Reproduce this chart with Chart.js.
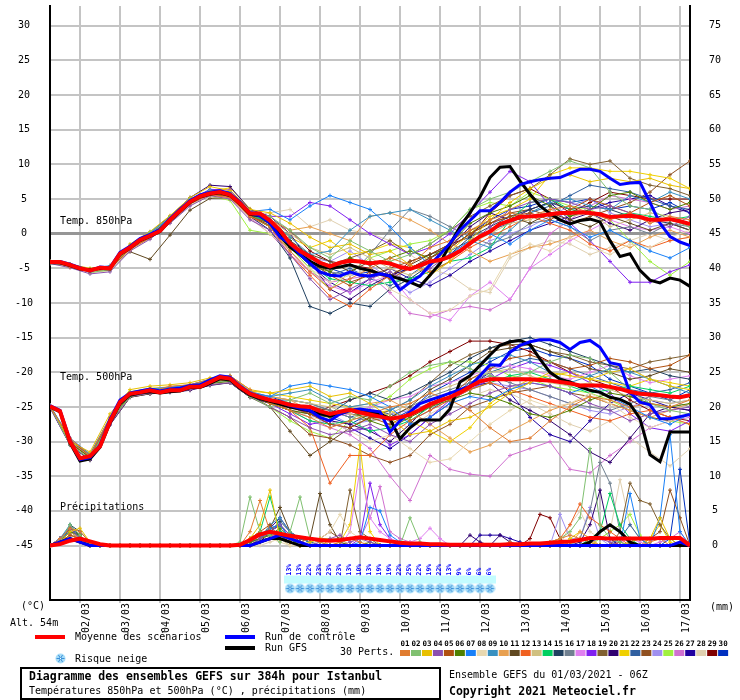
<!DOCTYPE html>
<html>
<head>
<meta charset="utf-8">
<script src="https://cdn.jsdelivr.net/npm/chart.js@4.4.1/dist/chart.umd.min.js"></script>
<style>
  body { margin: 0; background: #fff; }
  canvas { display: block; }
</style>
</head>
<body>
<canvas id="gefs" width="740" height="700"></canvas>
<script>
// time axis (hours after 01/03 06Z)
const hours6 = [0,6,12,18,24,30,36,42,48,54,60,66,72,78,84,90,96,102,108,114,120,126,132,138,144,150,156,162,168,174,180,186,192,198,204,210,216,222,228,234,240,246,252,258,264,270,276,282,288,294,300,306,312,318,324,330,336,342,348,354,360,366,372,378,384];
const hours12 = [0,12,24,36,48,60,72,84,96,108,120,132,144,156,168,180,192,204,216,228,240,252,264,276,288,300,312,324,336,348,360,372,384];
const dayHours = [18,42,66,90,114,138,162,186,210,234,258,282,306,330,354,378];
const dayLabels = ['02/03','03/03','04/03','05/03','06/03','07/03','08/03','09/03','10/03','11/03','12/03','13/03','14/03','15/03','16/03','17/03'];
const tempTicks = [30,25,20,15,10,5,0,-5,-10,-15,-20,-25,-30,-35,-40,-45];
const rrTicks = [75,70,65,60,55,50,45,40,35,30,25,20,15,10,5,0];

const persColors = ['#e07c30','#80c070','#e8c000','#8c50b0','#b05010','#508000','#1880f8','#e8d8b0','#3890c0','#e8a050',
  '#604820','#f06020','#d0c080','#00d060','#204060','#708090','#e080f0','#8020f0','#806030','#300070',
  '#f0d000','#3060a0','#905020','#a090f0','#a0f040','#d070d0','#2000a0','#e0d0b0','#800000','#0030c0'];

// 850 hPa, 6h steps
const mean850 = [-4.1,-4.1,-4.5,-5.0,-5.3, -4.9,-5.0,-2.9,-2.0,-0.9, -0.3,0.4,2.0,3.3,4.6, 5.4,5.8,6.0,5.6,4.4, 2.9,2.9,1.9,0.5,-1.4, -2.5,-3.3,-4.2,-4.7,-4.2, -3.9,-4.0,-4.3,-4.1,-4.3, -4.8,-5.1,-4.6,-4.0,-3.8, -3.3,-2.5,-1.4,-0.4,0.3, 1.4,1.9,2.4,2.5,2.6, 2.8,3.0,3.0,3.1,3.0, 2.8,2.4,2.5,2.6,2.4, 2.0,2.0,2.1,1.8,1.4];
const ctrl850 = [-4.0,-4.0,-4.4,-4.9,-5.4, -4.8,-4.9,-2.7,-1.8,-0.7, -0.1,0.6,2.2,3.5,4.8, 5.6,6.0,6.2,5.8,4.6, 3.0,2.6,1.5,-0.5,-1.4, -3.0,-4.3,-5.5,-6.0,-6.1, -5.5,-6.0,-6.1,-5.8,-6.1, -8.1,-7.0,-6.1,-4.5,-3.0, -1.4,0.5,1.9,3.3,3.3, 4.5,6.0,7.1,7.5,7.8, 8.0,8.1,8.7,9.3,9.3, 9.0,8.0,7.1,7.3,7.4, 4.5,1.5,-0.4,-1.2,-1.7];
const gfs850 = [-4.2,-4.2,-4.6,-5.1,-5.2, -5.0,-5.1,-3.0,-2.1,-1.0, -0.4,0.3,1.9,3.2,4.5, 5.3,5.7,5.9,5.5,4.3, 2.8,2.6,1.6,-0.3,-1.9, -3.0,-4.0,-4.7,-5.0,-4.8, -4.5,-5.0,-5.3,-5.8,-6.1, -6.5,-7.0,-7.6,-6.0,-4.3, -1.5,1.0,3.0,5.3,8.1, 9.6,9.7,7.6,5.7,4.0, 2.9,2.0,1.4,1.9,2.1, 1.7,-1.0,-3.3,-2.9,-5.3, -6.7,-7.1,-6.4,-6.7,-7.6];

// 500 hPa, 6h steps
const mean500 = [-24.9,-25.6,-30.0,-32.4,-32.1, -30.7,-27.1,-24.3,-23.1,-22.9, -22.6,-22.9,-22.6,-22.6,-22.1, -22.1,-21.4,-20.7,-20.9,-22.1, -23.1,-23.6,-24.0,-24.3,-24.7, -24.9,-25.0,-25.6,-26.0,-25.7, -25.4,-25.8,-26.1,-26.4,-26.7, -26.5,-26.1,-25.4,-24.6,-24.1, -23.6,-22.9,-22.1,-21.3,-21.0, -21.0,-21.0,-21.0,-21.0,-21.1, -21.2,-21.4,-21.6,-21.9,-21.9, -21.9,-22.1,-22.4,-22.8,-23.1, -23.2,-23.3,-23.5,-23.6,-23.3];
const ctrl500 = [-24.8,-25.5,-29.8,-32.6,-32.3, -30.5,-26.8,-24.0,-23.0,-22.7, -22.4,-22.7,-22.4,-22.3,-21.9, -21.8,-21.1,-20.5,-20.7,-22.0, -23.0,-23.5,-24.0,-24.3,-24.8, -25.2,-25.5,-26.5,-27.0,-26.0, -25.5,-25.3,-25.5,-25.7,-28.6, -27.0,-25.7,-24.5,-24.0,-23.5, -23.0,-22.5,-22.0,-20.5,-18.9, -19.0,-17.1,-16.1,-15.6,-15.3, -15.3,-15.7,-16.7,-15.7,-15.4, -16.4,-18.6,-18.9,-22.9,-24.3, -24.7,-26.7,-26.7,-26.4,-26.1];
const gfs500 = [-25.0,-25.7,-30.2,-32.8,-32.5, -30.8,-27.3,-24.5,-23.3,-23.0, -22.8,-23.0,-22.8,-22.7,-22.2, -22.2,-21.6,-20.9,-21.1,-22.3, -23.3,-23.8,-24.2,-24.6,-25.0, -25.3,-25.6,-26.0,-26.3,-26.0, -25.5,-25.4,-25.7,-26.0,-26.7, -29.6,-28.0,-26.9,-26.9,-26.9, -25.3,-21.4,-20.5,-19.0,-17.5, -16.1,-15.6,-15.4,-16.0,-18.1, -20.0,-21.0,-21.4,-22.1,-22.6, -22.9,-23.6,-23.9,-24.6,-26.7, -31.9,-32.9,-28.6,-28.6,-28.6];

// precipitation (mm), 6h steps
const meanRR = [0,0.2,0.7,1.0,0.6, 0.2,0,0,0,0, 0,0,0,0,0, 0,0,0,0,0.1, 0.8,1.6,2.0,1.7,1.4, 1.2,1.0,0.8,0.7,0.8, 1.0,1.2,1.0,0.8,0.6, 0.4,0.3,0.3,0.2,0.2, 0.1,0.1,0.1,0.1,0.1, 0.1,0.2,0.2,0.3,0.3, 0.4,0.5,0.6,0.8,1.1, 1.1,1.0,1.0,1.0,1.0, 1.0,1.1,1.1,1.1,0];
const ctrlRR = [0,0.5,1,0.5,0, 0,0,0,0,0, 0,0,0,0,0, 0,0,0,0,0, 0,0.5,1,1.5,1, 0.5,0,0,0,0, 0,0,0,0,0, 0,0,0,0,0, 0,0,0,0,0, 0,0,0,0,0, 0,0,0,0,0, 0,0,0,0,0, 0,0,0,0.5,0];
const gfsRR = [0,0.5,1,0.5,0, 0,0,0,0,0, 0,0,0,0,0, 0,0,0,0,0, 0,0.5,1,1,0.5, 0,0,0,0,0, 0,0,0,0,0, 0,0,0,0,0, 0,0,0,0,0, 0,0,0,0,0, 0,0,0,0,0.5, 2,3,2,0.5,0, 0,0,0,0,0];

// perturbations, 850 hPa, 12h steps
const t850Perts = [
  [-4.0,-4.8,-5.5,-4.8,-2.3,-0.5,1.8,4.4,5.6,5.2,2.5, 1.0,-2.5,-5.5,-8.0,-6.5,-5.0,-3.5,-4.5,-2.0,-1.0,0.5,2.0,3.0,2.5,3.5,4.0,3.0,2.0,3.0,1.5,2.5,2.0],
  [-4.2,-4.5,-5.6,-5.2,-1.8,0.2,2.4,5.0,6.2,5.8,3.0, 2.5,0.5,-2.0,-3.5,-1.0,-2.5,-4.0,-3.0,-1.5,0.5,3.5,5.0,6.0,7.5,9.0,10.5,9.5,6.0,4.0,3.5,2.0,1.0],
  [-4.1,-4.4,-5.0,-4.7,-1.5,0.3,2.6,5.2,6.8,6.2,3.5, 3.0,1.5,-0.5,-2.0,-1.5,-3.0,-2.5,-4.5,-6.0,-4.0,-1.0,2.0,4.5,6.5,8.0,8.5,7.5,8.0,7.5,8.0,7.0,6.5],
  [-4.3,-4.9,-5.8,-5.5,-2.5,-0.8,1.5,4.0,5.5,5.0,2.0, 0.5,-3.0,-6.5,-9.5,-8.0,-6.5,-5.5,-7.0,-5.0,-3.0,-1.5,1.0,3.5,4.5,5.0,4.5,3.5,4.0,3.0,2.0,1.0,2.5],
  [-4.0,-4.7,-5.4,-5.1,-2.2,-0.6,1.7,4.3,5.7,5.4,2.4, 1.5,-1.5,-4.0,-6.0,-7.5,-5.5,-6.5,-5.0,-3.5,-2.0,0.0,1.5,2.5,3.0,2.0,3.5,5.0,4.0,3.0,4.5,5.5,4.0],
  [-4.2,-4.6,-5.2,-4.9,-2.0,-0.2,2.1,4.7,6.0,5.5,2.6, 1.0,-2.0,-4.5,-5.5,-3.5,-4.5,-3.5,-2.5,-3.5,-1.5,1.5,3.0,4.0,5.5,4.0,2.5,3.5,5.5,6.0,4.5,3.5,4.5],
  [-4.1,-4.5,-5.1,-4.6,-1.7,0.1,2.3,4.9,6.3,6.0,3.2, 3.5,2.0,4.0,5.5,4.5,3.5,1.0,-2.0,-4.5,-3.0,-1.0,0.0,-1.5,0.5,2.0,1.0,-0.5,0.5,-1.0,-2.5,-3.5,-2.0],
  [-4.3,-4.8,-5.6,-5.3,-2.4,-0.7,1.6,4.2,5.4,5.1,2.2, 0.0,-2.5,-5.0,-7.0,-6.0,-5.0,-8.0,-9.5,-11.5,-11.0,-9.0,-8.0,-3.0,-1.5,-2.5,-0.5,-2.0,-3.0,-1.5,-2.0,-0.5,0.5],
  [-4.0,-4.6,-5.3,-4.9,-1.9,-0.4,1.9,4.5,5.9,5.7,3.0, 2.0,-0.5,-3.0,-2.5,0.5,2.5,3.0,3.5,2.0,0.5,-1.0,-2.0,0.5,3.0,4.5,5.0,4.0,3.5,5.5,4.5,6.0,5.0],
  [-4.2,-4.7,-5.5,-5.2,-2.1,-0.5,1.8,4.4,5.8,5.5,2.8, 2.0,0.5,1.0,0.0,-1.0,2.5,3.0,2.0,0.5,-1.5,-2.5,-4.0,-3.0,-2.0,-1.5,-0.5,0.5,-1.0,-2.0,-0.5,0.5,-0.5],
  [-4.0,-4.5,-5.1,-4.8,-2.6,-3.7,-0.2,3.4,5.1,5.2,2.5, 1.2,-1.0,-3.0,-4.0,-5.5,-4.0,-6.0,-4.5,-3.0,-2.0,0.0,1.5,2.5,1.5,3.0,2.0,1.0,2.5,1.5,0.5,1.5,0.5],
  [-4.1,-4.6,-5.4,-5.0,-2.2,-0.4,2.0,4.5,5.7,5.4,2.6, 1.0,-3.0,-6.0,-9.0,-10.5,-8.0,-6.0,-4.5,-5.5,-4.0,-2.0,-0.5,1.0,2.5,1.5,0.5,-1.5,-2.5,-1.0,-2.0,-1.0,-0.5],
  [-4.2,-4.7,-5.3,-5.1,-2.0,-0.1,2.2,4.6,5.9,5.8,3.1, 2.0,0.0,-2.0,-3.0,-2.0,-3.5,-5.0,-6.0,-4.5,-3.5,-1.5,0.0,1.5,2.0,3.5,2.5,3.0,1.0,2.0,3.0,2.5,1.5],
  [-4.0,-4.5,-5.2,-4.9,-1.9,-0.2,2.1,4.8,6.0,5.6,2.8, 1.5,-2.0,-4.5,-6.5,-7.0,-7.5,-7.0,-6.5,-5.5,-4.0,-3.5,-2.0,2.0,4.5,5.0,3.5,3.0,2.5,3.0,2.5,2.0,2.5],
  [-4.1,-4.5,-5.3,-4.9,-2.1,-0.3,1.9,4.5,5.8,5.4,2.5, 0.5,-3.5,-10.5,-11.5,-10.0,-10.5,-8.0,-6.5,-4.5,-3.0,-0.5,1.0,2.5,3.5,4.5,3.5,4.0,3.5,2.5,2.0,1.5,0.5],
  [-4.2,-4.6,-5.4,-5.0,-2.0,-0.3,2.0,4.6,5.8,5.5,2.7, 1.5,-1.5,-3.5,-5.5,-6.0,-3.0,0.5,3.5,2.5,1.0,-0.5,-1.5,-0.5,1.5,2.0,1.0,-1.0,0.5,1.0,0.0,1.5,1.0],
  [-4.1,-4.7,-5.5,-5.2,-2.3,-0.6,1.7,4.3,5.6,5.3,2.4, 0.5,-2.5,-5.5,-7.5,-8.5,-7.0,-6.0,-9.5,-11.5,-12.5,-9.0,-7.0,-9.5,-5.0,-3.0,-1.0,0.5,2.0,1.0,0.5,1.0,0.0],
  [-4.0,-4.4,-5.1,-4.8,-1.8,0.0,2.3,4.9,6.4,6.3,3.3, 2.5,2.5,4.5,4.0,2.0,0.0,-1.5,-3.0,-2.0,0.0,3.0,6.0,9.0,7.5,4.0,1.5,-1.0,-4.0,-7.0,-7.0,-5.5,-4.5],
  [-4.2,-4.7,-5.4,-5.1,-2.2,-0.5,1.9,4.4,5.7,5.4,2.6, 1.5,-1.5,-3.5,-4.5,-3.5,-2.5,-1.0,-3.0,-1.5,0.5,2.5,4.0,5.5,6.5,8.5,10.8,10.0,10.5,8.0,7.0,6.5,5.5],
  [-4.0,-4.5,-5.2,-4.9,-1.7,0.2,2.5,5.2,7.0,6.8,3.5, 2.5,0.0,-4.0,-8.0,-9.5,-7.5,-6.0,-5.0,-3.5,-2.0,1.0,3.0,2.0,3.5,4.5,2.0,3.0,1.5,0.5,2.0,3.0,3.5],
  [-4.1,-4.6,-5.3,-5.0,-2.0,-0.2,2.2,4.8,6.2,6.6,3.6, 2.0,-0.5,-2.0,-1.0,-3.0,-2.5,-1.5,-2.0,-4.0,-2.5,0.0,2.5,3.5,5.0,8.5,9.5,9.5,9.0,9.0,8.5,8.0,6.5],
  [-4.2,-4.6,-5.4,-5.0,-2.1,-0.4,2.0,4.6,5.9,5.6,2.8, 1.5,-1.0,-4.0,-6.0,-5.0,-6.5,-7.5,-6.0,-4.0,-2.5,-1.0,0.5,1.5,3.0,4.0,5.5,7.0,6.5,6.0,5.0,4.0,3.5],
  [-4.0,-4.6,-5.3,-5.0,-2.1,-0.5,1.8,4.4,5.6,5.3,2.5, 1.0,-2.0,-4.0,-5.5,-7.0,-6.0,-5.0,-4.0,-3.0,-1.5,0.5,1.5,3.0,3.5,2.5,1.5,2.5,3.5,4.5,6.0,8.5,10.5],
  [-4.1,-4.5,-5.2,-4.9,-1.8,0.0,2.2,4.8,6.1,5.9,3.0, 2.0,-1.0,-3.5,-4.0,-2.5,-4.5,-6.5,-8.5,-7.0,-5.0,-3.0,-1.0,0.0,1.0,2.5,4.0,5.0,3.0,2.0,1.0,1.5,0.5],
  [-4.2,-4.8,-5.6,-5.3,-2.4,-0.6,1.6,4.2,5.4,4.8,0.5, 0.0,-2.0,-5.0,-8.0,-5.5,-3.5,-2.5,-1.5,-1.0,0.5,3.5,4.5,4.0,6.0,5.0,4.0,3.5,2.0,-1.0,-4.0,-6.0,-4.0],
  [-4.1,-4.7,-5.5,-5.2,-2.3,-0.6,1.7,4.3,5.5,5.2,2.3, 0.0,-3.0,-5.5,-7.0,-6.5,-6.0,-8.5,-11.5,-12.0,-11.0,-10.5,-11.0,-9.5,-5.0,0.0,2.0,4.0,5.5,5.0,4.5,3.5,4.0],
  [-4.0,-4.5,-5.2,-4.8,-1.9,-0.1,2.2,4.9,6.3,6.0,3.0, 1.5,-1.5,-4.5,-7.0,-8.5,-6.5,-5.0,-6.5,-7.5,-6.0,-4.0,-2.5,-1.0,0.5,1.5,2.5,3.5,4.5,5.0,5.5,4.0,3.0],
  [-4.2,-4.7,-5.4,-5.1,-2.2,-0.4,1.9,4.5,5.7,5.4,2.6, 3.0,3.5,1.0,2.0,0.5,0.0,-1.0,-3.0,-5.0,-6.0,-8.0,-8.5,-3.5,-2.0,-1.0,-1.5,-3.0,-2.0,-1.0,0.0,-1.0,-0.5],
  [-4.1,-4.6,-5.3,-5.0,-2.0,-0.3,2.0,4.6,5.8,5.5,2.7, 2.0,0.5,-2.5,-4.0,-4.5,-5.0,-6.5,-4.0,-3.0,-1.5,-0.5,3.0,5.5,6.5,5.0,3.0,4.5,6.0,5.5,5.0,5.0,5.0],
  [-4.2,-4.6,-5.3,-5.0,-2.1,-0.3,2.0,4.6,5.8,5.5,2.7, 1.5,-1.5,-3.0,-5.0,-6.0,-5.5,-6.0,-5.0,-3.5,-2.0,0.0,2.0,3.5,4.0,5.0,4.5,5.0,3.5,4.0,3.5,4.5,3.0]
];

// perturbations, 500 hPa, 12h steps
const t500Perts = [
  [-25.0,-29.5,-32.0,-26.5,-23.0,-22.8,-22.0,-21.8,-21.0,-20.5,-22.5, -24.5,-25.5,-26.5,-28.0,-27.0,-26.0,-25.0,-24.5,-23.0,-24.0,-25.5,-28.0,-30.0,-29.5,-27.0,-25.0,-23.5,-24.0,-25.0,-24.5,-25.0,-24.0],
  [-24.8,-30.5,-32.5,-27.0,-23.5,-22.5,-22.3,-22.2,-21.5,-21.2,-23.5, -25.0,-24.0,-23.0,-24.5,-23.5,-24.0,-22.0,-20.0,-19.0,-18.5,-19.5,-20.5,-21.0,-20.0,-18.5,-17.5,-18.0,-20.0,-22.5,-24.5,-25.5,-26.0],
  [-24.9,-30.0,-31.5,-26.0,-22.5,-22.0,-21.8,-21.5,-20.8,-20.5,-22.5, -23.0,-22.5,-22.0,-23.5,-23.0,-24.5,-26.5,-29.0,-28.5,-27.0,-26.5,-25.0,-23.0,-21.5,-20.0,-20.5,-21.0,-20.0,-19.5,-21.0,-22.0,-22.5],
  [-25.0,-30.5,-32.5,-27.5,-23.5,-23.0,-22.8,-22.5,-21.8,-21.5,-23.5, -25.0,-26.5,-28.0,-29.0,-28.5,-27.5,-29.0,-30.0,-27.5,-26.0,-24.5,-23.0,-22.0,-21.5,-22.0,-23.0,-24.5,-25.5,-27.0,-26.0,-25.5,-25.0],
  [-24.9,-29.8,-32.0,-26.8,-23.0,-22.6,-22.4,-22.0,-21.5,-21.0,-23.2, -24.5,-25.0,-26.0,-27.5,-28.0,-26.5,-27.5,-26.0,-25.0,-23.5,-21.0,-19.5,-18.0,-17.5,-18.5,-19.5,-19.0,-18.0,-18.5,-19.5,-19.0,-17.5],
  [-25.0,-30.2,-32.3,-27.2,-23.3,-22.8,-22.6,-22.3,-21.6,-21.3,-23.4, -24.5,-25.5,-26.0,-26.5,-25.5,-27.0,-28.0,-26.5,-25.0,-24.0,-23.0,-23.5,-24.5,-26.0,-26.5,-25.5,-24.0,-23.0,-23.5,-24.5,-25.0,-24.5],
  [-24.8,-29.5,-31.8,-26.5,-22.8,-22.4,-22.2,-21.8,-21.0,-20.5,-22.8, -23.5,-22.0,-21.5,-22.0,-22.5,-23.5,-25.0,-27.5,-26.5,-24.5,-23.5,-24.0,-22.5,-21.5,-22.0,-23.0,-22.0,-23.5,-25.0,-26.5,-27.5,-26.0],
  [-25.0,-30.3,-32.4,-27.3,-23.5,-23.0,-22.6,-22.4,-21.7,-21.4,-23.5, -24.0,-25.0,-26.5,-27.0,-28.5,-30.0,-29.0,-31.0,-33.0,-32.5,-30.0,-27.5,-25.5,-24.0,-25.0,-24.5,-23.0,-24.5,-26.5,-28.0,-27.0,-26.0],
  [-24.9,-29.9,-32.0,-27.0,-23.0,-22.5,-22.3,-22.0,-21.3,-20.9,-23.0, -23.5,-23.0,-22.5,-24.0,-25.0,-24.5,-25.5,-24.0,-22.0,-20.5,-19.0,-18.0,-17.5,-18.5,-20.0,-21.5,-20.5,-19.5,-20.0,-21.0,-22.0,-23.0],
  [-24.8,-29.8,-32.0,-26.8,-23.0,-22.5,-22.2,-22.0,-21.2,-20.8,-22.8, -23.5,-24.0,-25.5,-26.0,-25.0,-24.5,-24.0,-25.5,-27.5,-29.5,-31.5,-30.5,-28.5,-27.0,-25.5,-24.5,-23.5,-24.5,-25.5,-26.5,-25.5,-24.5],
  [-25.0,-30.4,-32.6,-27.5,-23.6,-23.1,-22.8,-22.5,-21.8,-21.5,-23.6, -25.0,-28.5,-32.0,-30.0,-28.0,-26.5,-26.5,-25.0,-22.5,-21.0,-19.0,-17.0,-16.5,-16.0,-17.0,-18.0,-19.5,-20.0,-21.0,-20.5,-19.5,-20.0],
  [-24.9,-30.1,-32.2,-27.0,-23.2,-22.7,-22.5,-22.2,-21.5,-21.1,-23.2, -24.0,-25.5,-28.0,-36.0,-32.0,-32.0,-29.0,-27.0,-25.5,-24.0,-22.5,-21.5,-22.5,-23.5,-24.5,-25.5,-26.5,-27.0,-26.0,-25.5,-26.5,-27.5],
  [-25.0,-30.0,-32.1,-27.1,-23.1,-22.6,-22.4,-22.1,-21.4,-21.0,-23.1, -23.5,-24.0,-24.5,-25.0,-26.0,-27.0,-26.0,-24.5,-23.0,-22.0,-21.0,-20.0,-19.5,-20.5,-21.5,-22.0,-21.5,-22.5,-23.5,-24.0,-24.5,-24.0],
  [-24.9,-29.8,-31.9,-26.9,-22.9,-22.4,-22.2,-21.9,-21.2,-20.8,-22.9, -24.5,-25.5,-27.0,-27.5,-27.0,-28.5,-28.0,-27.0,-25.0,-23.5,-22.5,-21.5,-20.5,-20.0,-21.0,-22.0,-23.0,-22.5,-22.0,-22.5,-23.0,-22.0],
  [-25.0,-30.2,-32.3,-27.3,-23.3,-22.8,-22.6,-22.3,-21.6,-21.2,-23.3, -24.0,-24.5,-25.5,-26.0,-24.0,-23.0,-24.0,-23.0,-21.5,-20.0,-18.0,-16.5,-15.5,-15.0,-16.0,-17.0,-18.0,-19.0,-20.0,-19.5,-20.5,-21.0],
  [-24.9,-30.0,-32.1,-27.1,-23.1,-22.6,-22.3,-22.0,-21.3,-20.9,-23.0, -23.5,-24.0,-24.5,-25.5,-26.5,-27.0,-26.5,-25.0,-23.5,-22.5,-21.5,-20.5,-21.5,-22.5,-23.5,-24.5,-25.0,-25.5,-24.5,-23.5,-24.0,-25.0],
  [-24.8,-29.7,-31.9,-26.8,-22.9,-22.4,-22.1,-21.8,-21.1,-20.7,-22.8, -24.0,-25.0,-26.0,-26.5,-26.0,-25.0,-24.0,-23.5,-22.0,-21.5,-20.5,-19.5,-19.0,-19.5,-20.5,-21.0,-20.0,-19.0,-20.5,-21.5,-21.0,-20.5],
  [-25.0,-30.4,-32.5,-27.4,-23.4,-22.9,-22.7,-22.4,-21.7,-21.3,-23.4, -24.5,-26.0,-27.5,-27.0,-28.5,-28.0,-30.5,-29.0,-26.5,-24.0,-22.5,-21.0,-19.5,-18.5,-19.0,-20.0,-21.5,-23.0,-26.0,-28.0,-28.5,-27.0],
  [-24.9,-30.1,-32.2,-27.2,-23.2,-22.7,-22.5,-22.2,-21.5,-21.1,-23.2, -24.0,-24.5,-25.0,-25.5,-26.0,-26.5,-25.5,-24.0,-21.5,-19.0,-17.5,-16.5,-16.0,-16.0,-17.0,-17.5,-18.5,-19.0,-19.5,-18.5,-18.0,-17.5],
  [-25.1,-30.5,-32.7,-27.6,-23.6,-23.1,-22.9,-22.6,-21.9,-21.5,-23.6, -24.5,-25.5,-26.0,-27.0,-27.5,-28.5,-30.0,-27.5,-24.5,-23.0,-22.0,-21.5,-24.0,-25.5,-27.0,-29.0,-31.5,-33.0,-29.5,-26.0,-25.0,-25.5],
  [-24.8,-29.6,-31.8,-26.6,-22.8,-22.3,-22.1,-21.8,-21.1,-20.6,-22.7, -23.0,-23.5,-24.0,-24.5,-25.0,-26.0,-25.5,-27.0,-28.5,-30.0,-28.0,-24.5,-22.5,-21.0,-20.5,-20.0,-21.0,-21.5,-22.0,-21.0,-21.5,-22.0],
  [-24.9,-30.0,-32.2,-27.1,-23.1,-22.6,-22.4,-22.1,-21.4,-21.0,-23.1, -24.0,-24.0,-24.5,-25.5,-26.5,-25.5,-26.0,-27.0,-25.5,-23.5,-21.5,-20.0,-19.0,-18.0,-18.5,-19.5,-20.5,-21.5,-22.5,-23.0,-22.5,-21.5],
  [-25.0,-30.2,-32.4,-27.3,-23.3,-22.8,-22.6,-22.3,-21.6,-21.2,-23.3, -25.0,-26.5,-29.0,-29.5,-30.5,-32.0,-33.0,-32.0,-29.0,-27.5,-25.0,-24.0,-23.0,-22.5,-22.0,-23.0,-23.5,-24.5,-25.5,-26.5,-27.0,-26.0],
  [-24.8,-29.8,-32.0,-26.9,-23.0,-22.5,-22.3,-22.0,-21.3,-20.9,-23.0, -24.0,-25.5,-26.5,-26.0,-27.5,-27.0,-26.0,-25.5,-24.5,-23.0,-22.0,-21.5,-22.0,-22.5,-23.5,-24.5,-25.5,-26.0,-25.0,-24.0,-24.5,-24.0],
  [-24.9,-30.1,-32.2,-27.2,-23.2,-22.7,-22.4,-22.1,-21.4,-21.0,-23.2, -25.0,-27.0,-28.5,-29.5,-27.0,-25.0,-23.5,-21.0,-19.5,-18.5,-18.5,-19.0,-20.5,-21.0,-22.0,-22.5,-23.0,-24.0,-25.5,-26.5,-27.0,-27.5],
  [-25.0,-30.3,-32.4,-27.4,-23.4,-22.9,-22.7,-22.4,-21.7,-21.3,-23.4, -24.5,-25.5,-27.0,-28.0,-29.0,-31.0,-35.0,-38.5,-32.0,-34.0,-34.7,-35.0,-32.0,-31.0,-30.0,-34.0,-34.5,-32.0,-30.0,-28.0,-27.0,-26.5],
  [-24.9,-30.0,-32.1,-27.0,-23.1,-22.6,-22.3,-22.0,-21.3,-20.9,-23.0, -24.0,-25.0,-26.0,-27.5,-28.0,-29.5,-31.0,-29.0,-26.5,-24.5,-22.0,-20.0,-23.0,-26.5,-29.0,-30.0,-27.0,-24.5,-23.0,-24.0,-25.0,-25.5],
  [-25.0,-30.2,-32.3,-27.2,-23.2,-22.7,-22.5,-22.2,-21.5,-21.1,-23.2, -24.0,-24.5,-25.5,-26.0,-25.5,-25.0,-27.0,-28.0,-26.0,-24.5,-23.5,-22.5,-23.0,-24.5,-26.0,-27.5,-28.5,-27.0,-29.5,-31.5,-33.5,-31.0],
  [-24.9,-30.1,-32.2,-27.1,-23.1,-22.6,-22.4,-22.1,-21.4,-21.0,-23.1, -24.0,-25.0,-26.0,-25.0,-24.0,-23.0,-22.0,-20.5,-18.5,-17.0,-15.5,-15.5,-16.0,-17.0,-18.5,-20.0,-21.0,-22.0,-24.0,-25.5,-26.5,-27.0],
  [-24.8,-29.9,-32.0,-26.9,-23.0,-22.5,-22.3,-22.0,-21.3,-20.9,-23.0, -23.5,-24.5,-25.5,-26.5,-27.5,-26.0,-27.0,-25.5,-23.0,-21.5,-20.0,-18.5,-17.0,-16.5,-17.5,-18.0,-19.0,-21.0,-22.0,-23.0,-24.0,-22.5]
];

// perturbations, precipitation (mm), 6h steps
const rrPerts = [
  [0,1,2.5,2,0.5, 0,0,0,0,0, 0,0,0,0,0, 0,0,0,0,0, 2,6.5,2,1,1.5, 0.5,1,0.5,0,0.5, 1,0.5,0,0,0, 0,0,0,0,0, 0,0,0,0,0, 0,0.5,0,0,0, 0.5,1,1.5,1,0.5, 0,0,0,0,0, 0.5,1,0,0,0],
  [0,0.5,3,1.5,0, 0,0,0,0,0, 0,0,0,0,0, 0,0,0,0,0.5, 7,2,1.5,0.5,2, 7,1,0.5,0,0, 0,0,0,0,0, 0,4,0.5,0,0, 0,0,0,0,0, 0,0,0,0,0, 0.5,1,2,4,14, 3,1,0.5,0,0, 0,0,0,0,0],
  [0,0.5,2,2.5,0.5, 0,0,0,0,0, 0,0,0,0,0, 0,0,0,0,0, 1,3,8,1,0.5, 0,0.5,1,0,0, 0,0,0,0,0, 0,0,0,0,0, 0,0,0,0,0, 0,0,0,0,0, 0,0,0.5,1,0.5, 0,0,0,0.5,1, 1,4,1,0,0],
  [0,1,2.5,1,0, 0,0,0,0,0, 0,0,0,0,0, 0,0,0,0,0, 0,1,2,3,1.5, 0.5,0,0.5,1,1.5, 0.5,1,0.5,0,0, 0,0,0,0,0, 0,0,0,0,0, 0,0,0,0,0, 0,0,0,0,0.5, 1,0.5,0,0,0, 0,0,0,0,0],
  [0,0.5,1.5,1,0, 0,0,0,0,0, 0,0,0,0,0, 0,0,0,0,0, 1,2,3,1,0.5, 0,0,0,0,0, 0,0,0,0,0, 0,0,0,0,0, 0,0,0,0,0, 0,0,0,0,0, 0,0,0,0,0, 0,0,0.5,0,0, 0,0,0,0,0],
  [0,0.5,2,1.5,0, 0,0,0,0,0, 0,0,0,0,0, 0,0,0,0,0, 0.5,1,1.5,2.5,1, 0,0,0,0,0, 0,0,0.5,0,0, 0,0,0,0,0, 0,0,0,0,0, 0,0,0,0,0, 0,0,0,0,0, 0,0,0,0,0, 0,0,0,0,0],
  [0,1,2,1.5,0, 0,0,0,0,0, 0,0,0,0,0, 0,0,0,0,0, 0.5,1,2.5,3,1, 0,0,0,0,0, 0,0.5,5.5,5,1.5, 0.5,0,0,0,0, 0,0,0,0,0, 0,0,0,0,0, 0,0,0,0,0, 0,0,0,7.5,1, 0,4,16,2,0],
  [0,0.5,1.5,1,0, 0,0,0,0,0, 0,0,0,0,0, 0,0,0,0,0, 0,0.5,1,0.5,0, 0,0,1,2,4.5, 2,1,0,0,0, 0,0,0,0,0, 0,0,0,0,0, 0,0,0,0,0, 0,0,0,0,0, 0,0,0,0,0, 0,0,0,0,0],
  [0,1,3,1,0, 0,0,0,0,0, 0,0,0,0,0, 0,0,0,0,0, 0,1,3,4,2, 1,0.5,0,0,0, 0,0,0,0,0, 0,0,0,0,0, 0,0,0,0,0, 0,0,0,0,0, 0,0,0,0,0, 0,0,0,0,0, 0,0,0,0,0],
  [0,0.5,2,1,0, 0,0,0,0,0, 0,0,0,0,0, 0,0,0,0,0, 0,1.5,2,1,0.5, 0,0,0,0,0, 0,0,0,0,0, 0,0,0,0,0, 0,0,0,0,0, 0,0,0,0,0, 0,0,0,2,1, 0,0,0,0,0, 0,0,0,0,0],
  [0,0.5,2.5,1.5,0, 0,0,0,0,0, 0,0,0,0,0, 0,0,0,0,0, 0.5,1.5,2.5,5.5,2, 0.5,1,7.5,3,0.5, 0,0,0,0,0, 0,0,0,0,0, 0,0,0,0,0, 0,0,0,0,0, 0,0,0,0,0, 0,0,0,0,0, 0,0,0,0,0],
  [0,0.5,1.5,1,0, 0,0,0,0,0, 0,0,0,0,0, 0,0,0,0,0, 1,2,1.5,1,0.5, 0,0,0,0,0, 0,0,0,0,0, 0,0,0,0,0, 0,0,0,0,0, 0,0,0,0,0, 0.5,1,3,6,4, 3,2,1,0,0, 0,0,0,0,0],
  [0,1,2,1,0, 0,0,0,0,0, 0,0,0,0,0, 0,0,0,0,0, 0,1,1.5,1,0, 0,0,0.5,1,1, 0,0,0,0,0, 0,0,0,0,0, 0,0,0,0,0, 0,0,0,0,0, 0,0,0,0,0, 0,0,0,0,0, 0,0,0,0,0],
  [0,1,2,1,0, 0,0,0,0,0, 0,0,0,0,0, 0,0,0,0,0, 1,2,7,2,1, 0,0,0,0,0, 0,0,0,0,0, 0,0,0,0,0, 0,0,0,0,0, 0,0,0,0,0, 0,0,0,0,1, 2,7.5,3,1,0, 0,0,0,0,0],
  [0,0.5,3,2,0.5, 0,0,0,0,0, 0,0,0,0,0, 0,0,0,0,0, 0,1,2,3.5,2, 1,0.5,0,0,0, 0,0,0,0,0, 0,0,0,0,0, 0,0,0,0,0, 0,0,0,0,0, 0,0,0,0,0, 0,0,0,0,0, 0,0,0,0,0],
  [0,1,2,1.5,0, 0,0,0,0,0, 0,0,0,0,0, 0,0,0,0,0, 0.5,1,1.5,2,1, 0,0,0,0,0, 0,0,0,0,0, 0,0,0,0,0, 0,0,0,0,0, 0,0,0,0,0, 0,0,0,1,5, 12,9,2,0,0, 0,0,0,0,0],
  [0,1,2,1,0.5, 0,0,0,0,0, 0,0,0,0,0, 0,0,0,0,0, 0,1,2,1,0.5, 0,0,0,0,0, 2,11,4,2,1, 0.5,0.5,1,2.5,1, 0,0,0,0,0, 0,0,0,0,0, 0,0,0,0,0, 0,0,0.5,1,0.5, 0,0,0,0,0],
  [0,0.5,1.5,1,0, 0,0,0,0,0, 0,0,0,0,0, 0,0,0,0,0, 0,0.5,1,2,1, 0,0,0,0,0, 0,1,9,3,1, 0,0,0,0,0, 0,0,0,0,0, 0,0,0,0,0, 0,0,0,0,0, 0,0,0,0,0, 0,0,0,0,0],
  [0,0.5,2,1,0, 0,0,0,0,0, 0,0,0,0,0, 0,0,0,0,0, 0.5,1,2,2,1, 0,0,0,0,0, 8,2,1,0,0, 0,0,0,0,0, 0,0,0,0,0, 0,0,0,0,0, 0,0,0,0,0, 0,0,2,9,6.5, 6,3,1,0,0],
  [0,1,2.5,1,0, 0,0,0,0,0, 0,0,0,0,0, 0,0,0,0,0, 0,0.5,2,3,1.5, 0,0,0,0,0, 0,0,0,0,0, 0,0,0,0,0, 0,0,1.5,0.5,0, 1.5,0.5,0,0,0, 0,0,0,0.5,3, 8,1,0,0,0, 0,0,0,0,0],
  [0,0.5,1.5,1,0, 0,0,0,0,0, 0,0,0,0,0, 0,0,0,0,0, 0,1,2,1,0.5, 0,0,0,0,0.5, 3,14.5,2,0,0, 0,0,0,0,0, 0,0,0,0,0, 0,0,0,0,0, 0,0,1,2,1, 0,0,0,0,0, 1,3,0.5,0,0],
  [0,1,2,1.5,0, 0,0,0,0,0, 0,0,0,0,0, 0,0,0,0,0, 0,1,2.5,3,1.5, 1,0.5,0,0,0, 0,0,0,0,0, 0,0,0,0,0, 0,0,0,0,0, 0,0,0,0,0, 0,0,0,0,0, 0,0,1,3,1, 0,0,0,0,0],
  [0,0.5,1.5,1,0, 0,0,0,0,0, 0,0,0,0,0, 0,0,0,0,0, 0.5,1,1.5,1,0.5, 0,0,1,2,1, 0,0,0,0,0, 0,0,0,0,0, 0,0,0,0,0, 0,0,0,0,0, 0,0,0,0,0, 0,0,0,0,0, 1,2,8,4,0],
  [0,0.5,2,1,0, 0,0,0,0,0, 0,0,0,0,0, 0,0,0,0,0, 0,1,1,2,1, 0,0,0,0,0, 0,0,0,0,0, 0,0,0,0,0, 0,0,0,0,0, 0,0,0,0,0, 0,4.5,1,1,5.5, 1,0,0,0,0, 0,0,0,0,0],
  [0,0.5,1.5,1,0.5, 0,0,0,0,0, 0,0,0,0,0, 0,0,0,0,0, 0,1,1.5,1,0.5, 0,0.5,1,1,0.5, 0,0,0,0,0, 0,0,0,0,0, 0,0,0,0,0, 0,0,0,0,0, 0,0,0,0,0, 1,2,3,4.5,1.5, 0,0,0,0,0],
  [0,0.5,2,1,0, 0,0,0,0,0, 0,0,0,0,0, 0,0,0,0,0, 0,0.5,1,2,1, 0,0,0,0,0, 0.5,1,4,8.5,2, 1,0.5,0,0,0, 0,0,0,0,0, 0,0,0,0,0, 0,0,0,0,0, 0,0,0,0,0, 0,0.5,1,2,0],
  [0,1,2.5,1.5,0, 0,0,0,0,0, 0,0,0,0,0, 0,0,0,0,0, 0,1,2.5,4,2, 1,0.5,0,0,0, 0,0,0,0,0, 0,0,0,0,0, 0,0,0,1.5,1.5, 1.5,1,0.5,0,0, 0,0,0,0,0, 0,0,0,0,0, 0,0,0,0,0],
  [0,0.5,1,1,0, 0,0,0,0,0, 0,0,0,0,0, 0,0,0,0,0, 0,0,0.5,1,0.5, 0,0,0,0,0, 0,0,0,0,0, 0,0,0,0,0, 0,0,0,0,0, 0,0,0,0,0, 0,0,3,5,2, 1,2,9.5,3,1, 0,0,0,0,0],
  [0,0.5,2,1,0, 0,0,0,0,0, 0,0,0,0,0, 0,0,0,0,0, 0,0.5,1,1.5,0.5, 0,0,0,0,0, 0,0,0,0,0, 0,0,0,0,0, 0,0,0,0,0, 0,0,0,1,4.5, 4,1,0,0,0, 0,0,0,0,0, 0,0,0,0,0],
  [0,1,2,1,0, 0,0,0,0,0, 0,0,0,0,0, 0,0,0,0,0, 0,1,2,3,1, 0.5,0,0,0,0, 0,0,0,0,0, 0,0,0,0,0, 0,0,0,0,0, 0,0,0,0,0, 0,0,0,0,0, 0,0,0,0,0, 0,0,1,11,0]
];

// snow risk (%)
const snowHours = [144,150,156,162,168,174,180,186,192,198,204,210,216,222,228,234,240,246,252,258,264];
const snowPct = [13,13,22,23,23,23,13,10,13,19,19,22,25,22,19,22,13,9,6,6,6];

const FONT = 'DejaVu Sans Mono';
const SNOW_Y = -51.2;

function pts(hours, vals) {
  return vals.map(function (v, i) { return { x: hours[i], y: v }; });
}

// little snowflake image, used as point style and in the legend
function makeFlake() {
  const c = document.createElement('canvas');
  c.width = 11; c.height = 11;
  const g = c.getContext('2d');
  g.fillStyle = '#a6dcf8';
  g.beginPath(); g.arc(5.5, 5.5, 5, 0, Math.PI * 2); g.fill();
  g.strokeStyle = '#3a8fd8';
  g.lineWidth = 1;
  for (let k = 0; k < 3; k++) {
    const a = k * Math.PI / 3;
    g.beginPath();
    g.moveTo(5.5 - Math.cos(a) * 4, 5.5 - Math.sin(a) * 4);
    g.lineTo(5.5 + Math.cos(a) * 4, 5.5 + Math.sin(a) * 4);
    g.stroke();
  }
  g.fillStyle = '#ffffff';
  g.fillRect(5, 5, 1, 1);
  return c;
}
const flake = makeFlake();

function member(data, color, axis) {
  return {
    data: data, yAxisID: axis, order: 3,
    borderColor: color, backgroundColor: color,
    borderWidth: 1, pointStyle: 'cross', pointRadius: 2, pointBorderWidth: 1,
    pointBorderColor: color, tension: 0
  };
}
function thick(data, color, axis, w, ord) {
  return {
    data: data, yAxisID: axis, order: ord,
    borderColor: color, backgroundColor: color,
    borderWidth: w, pointRadius: 0, tension: 0
  };
}

const datasets = [];
// red mean on top
datasets.push(thick(pts(hours6, mean850), '#ff0000', 'y', 4, 1));
datasets.push(thick(pts(hours6, mean500), '#ff0000', 'y', 4, 1));
datasets.push(thick(pts(hours6, meanRR), '#ff0000', 'yR', 4, 1));
datasets.push(thick(pts(hours6, ctrl850), '#0000ff', 'y', 3, 2));
datasets.push(thick(pts(hours6, ctrl500), '#0000ff', 'y', 3, 2));
datasets.push(thick(pts(hours6, ctrlRR), '#0000ff', 'yR', 3, 2));
datasets.push(thick(pts(hours6, gfs850), '#000000', 'y', 3, 2));
datasets.push(thick(pts(hours6, gfs500), '#000000', 'y', 3, 2));
datasets.push(thick(pts(hours6, gfsRR), '#000000', 'yR', 3, 2));
for (let m = 0; m < 30; m++) {
  datasets.push(member(pts(hours12, t850Perts[m]), persColors[m], 'y'));
  datasets.push(member(pts(hours12, t500Perts[m]), persColors[m], 'y'));
  datasets.push(member(pts(hours6, rrPerts[m]), persColors[m], 'yR'));
}
// snow icons row
datasets.push({
  data: snowHours.map(function (h) { return { x: h, y: SNOW_Y }; }),
  yAxisID: 'y', order: 0, showLine: false,
  pointStyle: flake, pointRadius: 5, clip: false
});

const decorations = {
  id: 'decorations',
  beforeDatasetsDraw(chart) {
    const ctx = chart.ctx;
    const xs = chart.scales.x, ys = chart.scales.y;
    // light band behind the snow icons
    const y0 = ys.getPixelForValue(SNOW_Y);
    ctx.save();
    ctx.fillStyle = '#c4fcff';
    ctx.fillRect(xs.getPixelForValue(snowHours[0]) - 6, y0 - 13,
      xs.getPixelForValue(snowHours[snowHours.length - 1]) - xs.getPixelForValue(snowHours[0]) + 12, 8);
    ctx.restore();
  },
  afterDraw(chart) {
    const ctx = chart.ctx;
    const xs = chart.scales.x, ys = chart.scales.y;
    ctx.save();
    ctx.fillStyle = '#000';
    ctx.textBaseline = 'middle';
    ctx.textAlign = 'left';
    ctx.font = '10px ' + FONT;
    ctx.fillText('Temp. 850hPa', 60, 221);
    ctx.fillText('Temp. 500hPa', 60, 377);
    ctx.fillText('Précipitations', 60, 507);

    // snow percentages
    ctx.fillStyle = '#0000ff';
    ctx.font = 'bold 6.5px ' + FONT;
    const y0 = ys.getPixelForValue(SNOW_Y);
    snowHours.forEach(function (h, i) {
      ctx.save();
      ctx.translate(xs.getPixelForValue(h) - 1, y0 - 13);
      ctx.rotate(-Math.PI / 2);
      ctx.fillText(snowPct[i] + '%', 0, 0);
      ctx.restore();
    });

    // units and legend
    ctx.fillStyle = '#000';
    ctx.font = '10px ' + FONT;
    ctx.fillText('(°C)', 21, 606);
    ctx.fillText('Alt. 54m', 10, 623);
    ctx.fillText('(mm)', 710, 607);

    ctx.fillStyle = '#ff0000'; ctx.fillRect(35, 635, 30, 4);
    ctx.fillStyle = '#0000ff'; ctx.fillRect(225, 635, 30, 4);
    ctx.fillStyle = '#000000'; ctx.fillRect(225, 646, 30, 4);
    ctx.fillText('Moyenne des scénarios', 75, 637);
    ctx.fillText('Run de contrôle', 265, 637);
    ctx.fillText('Run GFS', 265, 648);
    ctx.fillText('30 Perts.', 340, 652);
    ctx.drawImage(flake, 55, 653);
    ctx.fillText('Risque neige', 75, 659);

    // member swatches
    ctx.textAlign = 'center';
    ctx.font = 'bold 7.5px ' + FONT;
    for (let k = 0; k < 30; k++) {
      const x = 400 + k * 10.97;
      ctx.fillStyle = '#000';
      ctx.fillText(String(k + 1).padStart(2, '0'), x + 5, 644);
      ctx.fillStyle = persColors[k];
      ctx.fillRect(x, 650, 10, 6);
    }

    // title box
    ctx.strokeStyle = '#000';
    ctx.lineWidth = 2;
    ctx.strokeRect(21, 668, 419, 31);
    ctx.textAlign = 'left';
    ctx.fillStyle = '#000';
    ctx.font = 'bold 11.5px ' + FONT;
    ctx.fillText('Diagramme des ensembles GEFS sur 384h pour Istanbul', 29, 677);
    ctx.font = '10px ' + FONT;
    ctx.fillText('Températures 850hPa et 500hPa (°C) , précipitations (mm)', 29, 691);
    ctx.fillText('Ensemble GEFS du 01/03/2021 - 06Z', 449, 675);
    ctx.font = 'bold 11.5px ' + FONT;
    ctx.fillText('Copyright 2021 Meteociel.fr', 449, 692);
    ctx.restore();
  }
};

const whiteBg = {
  id: 'whiteBg',
  beforeDraw(chart) {
    const ctx = chart.ctx;
    ctx.save();
    ctx.fillStyle = '#fff';
    ctx.fillRect(0, 0, chart.width, chart.height);
    ctx.restore();
  }
};

// keep the plot frame fixed at x 50..690, y 0..600
function noPad(s) {
  s.paddingTop = 0; s.paddingBottom = 0;
  s.paddingLeft = 0; s.paddingRight = 0;
}

Chart.defaults.font.family = FONT;
Chart.defaults.font.size = 10;
Chart.defaults.color = '#000';

new Chart(document.getElementById('gefs'), {
  type: 'line',
  data: { datasets: datasets },
  options: {
    responsive: false,
    animation: false,
    devicePixelRatio: 1,
    layout: { padding: 0 },
    plugins: { legend: { display: false }, tooltip: { enabled: false } },
    scales: {
      x: {
        type: 'linear', min: 0, max: 384,
        afterBuildTicks: function (s) { s.ticks = dayHours.map(function (v) { return { value: v }; }); },
        afterFit: function (s) { s.height = 100; noPad(s); },
        grid: { color: '#c4c4c4', lineWidth: 2, drawTicks: true, tickLength: 3 },
        border: { display: true, color: '#000', width: 2 },
        ticks: {
          autoSkip: false, minRotation: 90, maxRotation: 90, padding: 0, labelOffset: 6,
          callback: function (v, i) { return dayLabels[i]; }
        }
      },
      y: {
        type: 'linear', position: 'left', min: -52.857, max: 32.857,
        afterBuildTicks: function (s) { s.ticks = tempTicks.map(function (v) { return { value: v }; }); },
        afterFit: function (s) { s.width = 50; noPad(s); },
        grid: {
          drawTicks: false,
          color: function (c) { return c.tick && c.tick.value === 0 ? '#969696' : '#c4c4c4'; },
          lineWidth: function (c) { return c.tick && c.tick.value === 0 ? 3 : 2; }
        },
        border: { display: true, color: '#000', width: 2 },
        ticks: { crossAlign: 'center', padding: 17, callback: function (v) { return String(v); } }
      },
      yR: {
        type: 'linear', position: 'right', min: -7.857, max: 77.857,
        afterBuildTicks: function (s) { s.ticks = rrTicks.map(function (v) { return { value: v }; }); },
        afterFit: function (s) { s.width = 50; noPad(s); },
        grid: { display: false, drawTicks: false },
        border: { display: true, color: '#000', width: 2 },
        ticks: { crossAlign: 'center', padding: 19, callback: function (v) { return String(v); } }
      }
    }
  },
  plugins: [whiteBg, decorations]
});
</script>
</body>
</html>
